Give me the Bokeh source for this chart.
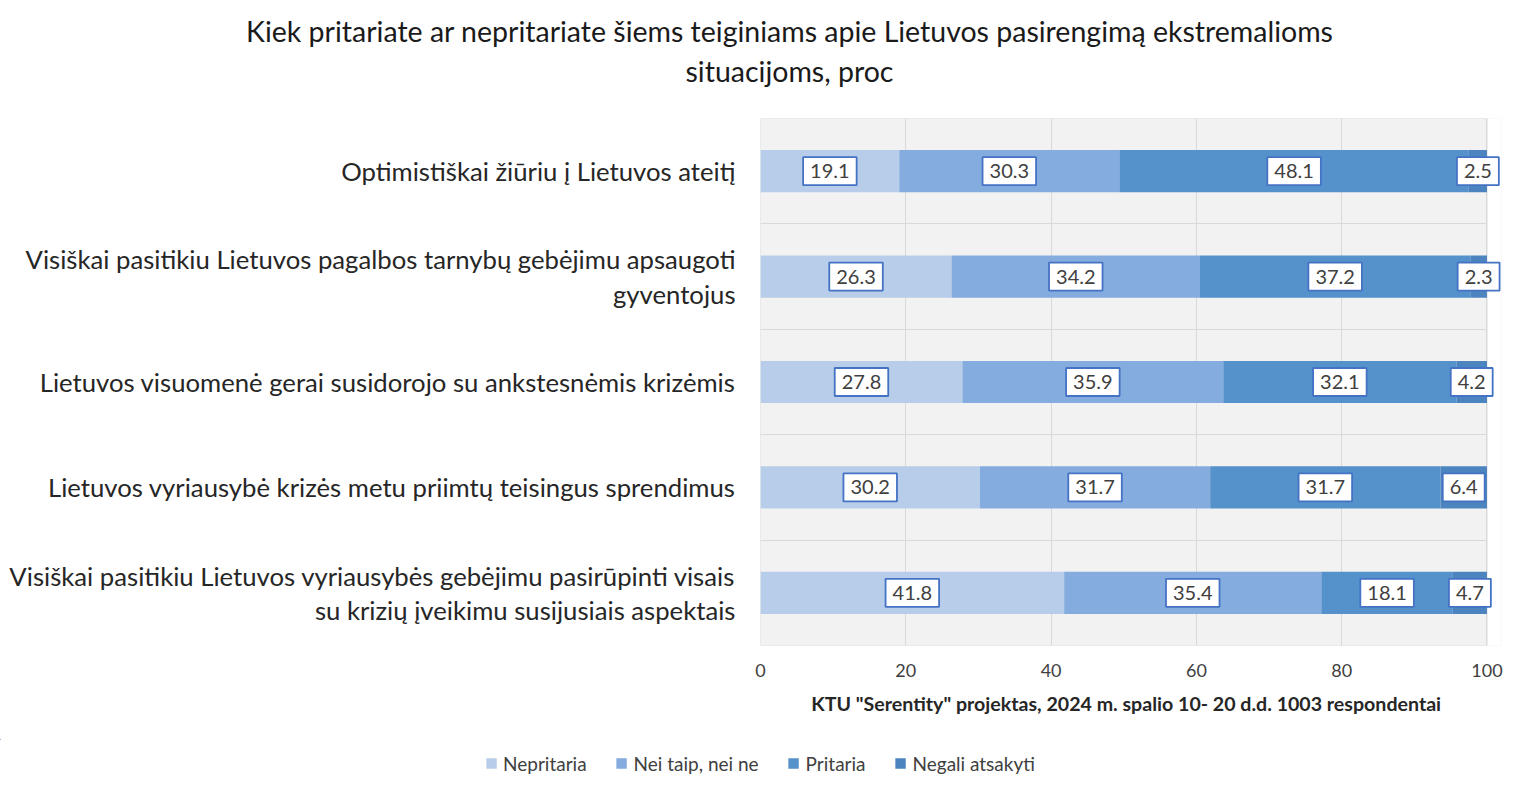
import numpy as np
from bokeh.plotting import figure
from bokeh.layouts import column, row
from bokeh.models import Range1d, FixedTicker, Label, Legend, LegendItem, Div
from bokeh.embed import file_html
from bokeh.resources import INLINE

title_lines = ["Kiek pritariate ar nepritariate šiems teiginiams apie Lietuvos pasirengimą ekstremalioms",
               "situacijoms, proc"]
categories = [
    "Optimistiškai žiūriu į Lietuvos ateitį",
    "Visiškai pasitikiu Lietuvos pagalbos tarnybų gebėjimu apsaugoti\ngyventojus",
    "Lietuvos visuomenė gerai susidorojo su ankstesnėmis krizėmis",
    "Lietuvos vyriausybė krizės metu priimtų teisingus sprendimus",
    "Visiškai pasitikiu Lietuvos vyriausybės gebėjimu pasirūpinti visais\nsu krizių įveikimu susijusiais aspektais",
]
series_names = ["Nepritaria", "Nei taip, nei ne", "Pritaria", "Negali atsakyti"]
nepritaria = [19.1, 26.3, 27.8, 30.2, 41.8]
nei_taip = [30.3, 34.2, 35.9, 31.7, 35.4]
pritaria = [48.1, 37.2, 32.1, 31.7, 18.1]
negali = [2.5, 2.3, 4.2, 6.4, 4.7]
x_ticks = [0, 20, 40, 60, 80, 100]
x_label = 'KTU "Serentity" projektas,  2024  m. spalio 10- 20 d.d. 1003 respondentai'

colors = ["#b7cde9", "#84acde", "#5591ca", "#4b84be"]
FONT = "Lato"
W = 1519

series = [nepritaria, nei_taip, pritaria, negali]
n = len(categories)
ypos = [i + 0.5 for i in range(n)]
XMAX = 100
XPAD = 102

title = Div(text="<br>".join(title_lines), width=W, height=100,
            styles={"font-family": FONT, "font-size": "28.5px", "line-height": "40px",
                    "color": "#1a1a1a", "text-align": "center", "width": f"{W}px",
                    "padding-top": "6px", "padding-left": "50px", "box-sizing": "border-box"})

p = figure(width=W, height=607, output_backend="svg", toolbar_location=None,
           x_range=Range1d(0, XPAD), y_range=Range1d(n, 0),
           min_border_left=760, min_border_right=18, min_border_top=8, min_border_bottom=60)
p.background_fill_color = "#f2f2f2"
p.border_fill_color = "white"
p.outline_line_color = None

# white area beyond 100 so the end labels are not cut
p.quad(left=XMAX, right=XPAD, bottom=n, top=0, fill_color="white", line_color=None)
p.quad(left=0, right=XMAX, bottom=n, top=0, fill_color=None, line_color="#d9d9d9", line_width=1)

stacks = []
left = np.zeros(n)
for name, vals, col in zip(series_names, series, colors):
    vals = np.array(vals)
    stacks.append((left.copy(), left + vals))
    p.hbar(y=ypos, left=left, right=left + vals, height=0.4, color=col, line_color=None)
    for yy, l, v in zip(ypos, left, vals):
        p.add_layout(Label(x=l + v / 2, y=yy, text=f"{v:.1f}", text_align="center",
                           text_baseline="middle", text_font=FONT, text_font_size="20px",
                           text_color="#404040", background_fill_color="white",
                           border_line_color="#4472c4", border_line_width=1.8,
                           padding=7))
    left = left + vals

# axes
p.xaxis.ticker = FixedTicker(ticks=x_ticks)
p.xaxis.axis_line_color = None
p.xaxis.major_tick_line_color = None
p.xaxis.minor_tick_line_color = None
p.xaxis.major_label_text_font = FONT
p.xaxis.major_label_text_font_size = "18px"
p.xaxis.major_label_text_color = "#404040"
p.xaxis.major_label_standoff = 12
p.xaxis.axis_label = x_label
p.xaxis.axis_label_text_font = FONT
p.xaxis.axis_label_text_font_style = "bold"
p.xaxis.axis_label_text_font_size = "19.6px"
p.xaxis.axis_label_text_color = "#262626"
p.xaxis.axis_label_standoff = 12

p.yaxis.ticker = FixedTicker(ticks=ypos)
p.yaxis.major_label_overrides = {y: c for y, c in zip(ypos, categories)}
p.yaxis.axis_line_color = None
p.yaxis.major_tick_line_color = None
p.yaxis.minor_tick_line_color = None
p.yaxis.major_tick_out = 0
p.yaxis.major_label_standoff = 25
p.yaxis.major_label_text_font = FONT
p.yaxis.major_label_text_font_size = "25.7px"
p.yaxis.major_label_text_line_height = 1.15
p.yaxis.major_label_text_color = "#262626"

p.xgrid.grid_line_color = "#d9d9d9"
p.ygrid.ticker = FixedTicker(ticks=[1, 2, 3, 4])
p.ygrid.grid_line_color = "#d9d9d9"

# legend strip below the chart (its bars lie outside its visible ranges)
lg = figure(width=W, height=70, output_backend="svg", toolbar_location=None,
            x_range=Range1d(XMAX + 1, 2 * XMAX + 1), y_range=Range1d(-2 * n, -n),
            min_border_left=0, min_border_right=0, min_border_top=22, min_border_bottom=0)
lg.axis.visible = False
lg.grid.visible = False
lg.outline_line_color = None
items = []
for name, col, (l, r_) in zip(series_names, colors, stacks):
    r = lg.hbar(y=ypos, left=l, right=r_, height=0.4, color=col, line_color=None)
    items.append(LegendItem(label=name, renderers=[r]))
legend = Legend(items=items, orientation="horizontal", location="center",
                padding=0, margin=0, spacing=28,
                glyph_width=13, glyph_height=13, label_standoff=6,
                label_text_font=FONT, label_text_font_size="19px", label_text_color="#404040",
                background_fill_alpha=0, border_line_color=None)
lg.add_layout(legend, "center")

layout = column(title, p, row(lg), spacing=0)
open("out.html", "w").write(file_html(layout, INLINE))
